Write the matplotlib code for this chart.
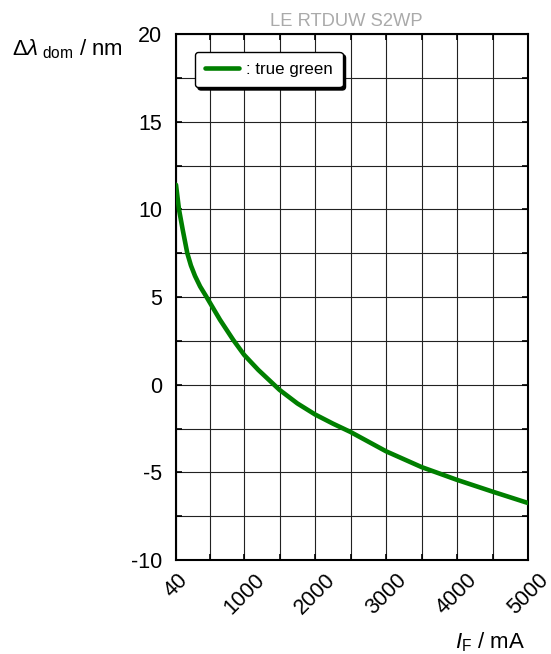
import matplotlib
matplotlib.use("Agg")
import matplotlib.pyplot as plt
from matplotlib.ticker import FixedLocator, MultipleLocator

plt.rcParams['font.family'] = ['Liberation Sans', 'DejaVu Sans']
plt.rcParams['mathtext.fontset'] = 'custom'
plt.rcParams['mathtext.rm'] = 'Liberation Sans'
plt.rcParams['mathtext.it'] = 'Liberation Sans:italic'
plt.rcParams['axes.unicode_minus'] = False

# forward current (mA) and shift of dominant wavelength (nm)
current_ma = [40, 82, 134, 199, 250, 308, 380, 463, 660, 847, 1000, 1200, 1500, 1750,
              2000, 2250, 2500, 2750, 3000, 3500, 4000, 4500, 5000]
delta_nm = [11.4, 10.0, 8.85, 7.5, 6.8, 6.2, 5.6, 5.05, 3.7, 2.55, 1.7, 0.84, -0.3, -1.07,
            -1.7, -2.22, -2.7, -3.25, -3.8, -4.7, -5.43, -6.1, -6.75]

x_major = [40, 1000, 2000, 3000, 4000, 5000]
x_minor = [520, 1500, 2500, 3500, 4500]
x_labels = ['40', '1000', '2000', '3000', '4000', '5000']

fig = plt.figure(figsize=(5.51, 6.54), dpi=100)
ax = fig.add_axes([176/551, 1 - 560/654, 352/551, 526/654])

ax.plot(current_ma, delta_nm, color='#007f00', lw=3.3, label=': true green',
        solid_capstyle='round', solid_joinstyle='round', zorder=3)

ax.set_xlim(40, 5000)
ax.set_ylim(-10, 20)
ax.xaxis.set_major_locator(FixedLocator(x_major))
ax.xaxis.set_minor_locator(FixedLocator(x_minor))
ax.set_xticklabels(x_labels, rotation=45, ha='center')
ax.yaxis.set_major_locator(MultipleLocator(5))
ax.yaxis.set_minor_locator(MultipleLocator(2.5))

ax.grid(True, which='both', color='#222222', lw=0.8)
ax.tick_params(which='both', direction='in', top=True, right=True, width=1.2)
ax.tick_params(which='major', length=4, labelsize=15.5)
ax.tick_params(which='minor', length=4)
ax.tick_params(axis='x', pad=7)
ax.tick_params(axis='y', pad=10)
for s in ax.spines.values():
    s.set_linewidth(1.5)

leg = ax.legend(loc='upper left', bbox_to_anchor=(0.054, 0.966), borderaxespad=0,
                fontsize=12.2, fancybox=True, framealpha=1, edgecolor='black',
                handlelength=2.0, handletextpad=0.4, borderpad=0.6,
                shadow={'color': 'black', 'alpha': 1})
leg.get_frame().set_linewidth(1.0)

fig.text(346/551, 1 - 21/654, 'LE RTDUW S2WP', color='#aaaaaa', fontsize=13.2,
         ha='center', va='center')
fig.text(12/551, 1 - 55/654, r'$\mathit{Δλ}_{\ \mathrm{dom}}$ / nm', fontsize=16,
         ha='left', va='baseline')
fig.text(525/551, 1 - 648/654, r'$\mathit{I}_{\mathrm{F}}$ / mA', fontsize=16,
         ha='right', va='baseline')

fig.savefig('out.png', dpi=100)
